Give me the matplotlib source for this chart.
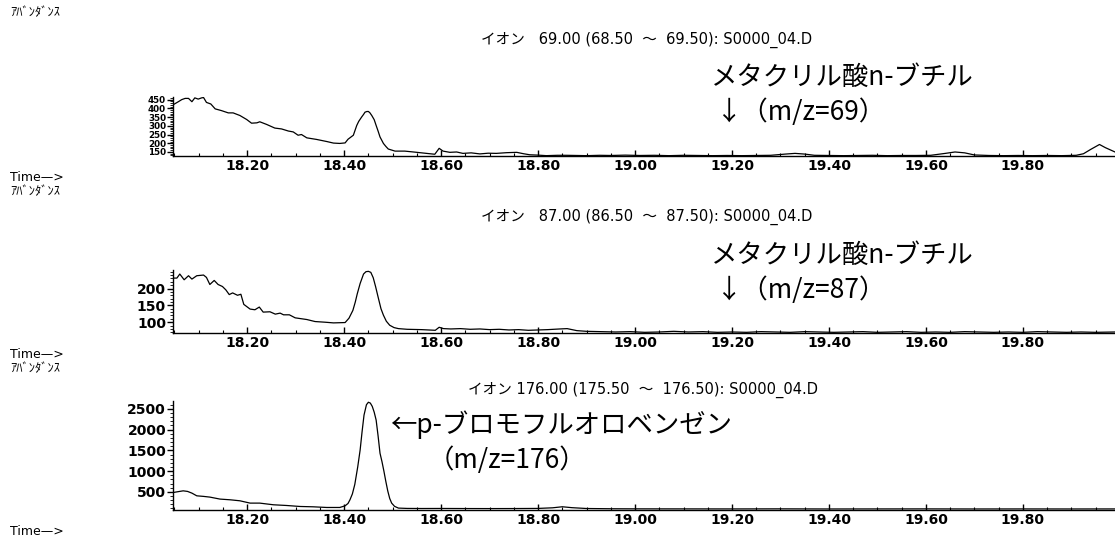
import matplotlib
matplotlib.use("Agg")
import matplotlib.pyplot as plt
from matplotlib.ticker import MultipleLocator, FixedLocator

W, H = 1115, 539

# ---- data (time in min, abundance) ----
t69 = [18.047, 18.058, 18.065, 18.072, 18.079, 18.086, 18.092, 18.099, 18.106, 18.110,
       18.116, 18.125, 18.134, 18.147, 18.161, 18.171, 18.185, 18.199, 18.209, 18.220,
       18.226, 18.240, 18.257, 18.271, 18.285, 18.295, 18.305, 18.312, 18.323, 18.343,
       18.364, 18.378, 18.391, 18.402, 18.408, 18.419, 18.426, 18.430, 18.436, 18.440,
       18.443, 18.447, 18.450, 18.453, 18.457, 18.462, 18.466, 18.470, 18.474, 18.478,
       18.481, 18.486, 18.491, 18.505, 18.525, 18.543, 18.570, 18.587,
       18.596, 18.604, 18.618, 18.632, 18.645, 18.662, 18.680, 18.697, 18.714, 18.735,
       18.756, 18.770, 18.783, 18.800, 18.817, 18.840, 18.858, 18.880, 18.900, 18.927,
       18.95, 18.98, 19.01, 19.04, 19.07, 19.10, 19.13, 19.16, 19.19, 19.22,
       19.25, 19.28, 19.31, 19.33, 19.35, 19.37, 19.40, 19.43, 19.46, 19.49,
       19.52, 19.55, 19.58, 19.61, 19.64, 19.66, 19.68, 19.70, 19.73, 19.76,
       19.79, 19.82, 19.85, 19.88, 19.91, 19.925, 19.94, 19.958, 19.97, 19.99]
a69 = [420, 438, 450, 457, 457, 438, 460, 453, 460, 462,
       434, 425, 397, 387, 374, 374, 359, 336, 315, 317,
       323, 308, 287, 282, 270, 265, 246, 250, 231, 222,
       210, 201, 199, 202, 223, 246, 302, 325, 350, 365,
       378, 382, 382, 375, 359, 335, 302, 270, 236, 215,
       199, 182, 167, 155, 155, 150, 142, 137,
       171, 155, 148, 150, 142, 145, 139, 143, 142, 146,
       148, 140, 134, 132, 129, 131, 131, 130, 129, 131,
       130, 132, 130, 131, 129, 131, 130, 129, 130, 129,
       130, 131, 138, 142, 138, 131, 130, 129, 130, 131,
       129, 130, 130, 131, 142, 150, 145, 133, 130, 129,
       130, 129, 130, 129, 131, 140, 165, 193, 175, 150]

t87 = [18.047, 18.055, 18.061, 18.070, 18.079, 18.086, 18.096, 18.103, 18.110, 18.116,
       18.123, 18.132, 18.140, 18.149, 18.156, 18.163, 18.170, 18.180, 18.187, 18.193,
       18.206, 18.216, 18.225, 18.233, 18.247, 18.258, 18.268, 18.275, 18.287, 18.299,
       18.323, 18.340, 18.361, 18.378, 18.402, 18.410, 18.418, 18.423, 18.427, 18.433,
       18.440, 18.445, 18.450, 18.455, 18.460, 18.465, 18.470, 18.476, 18.481, 18.487,
       18.494, 18.503, 18.512, 18.53, 18.56, 18.588, 18.596, 18.605,
       18.62, 18.64, 18.66, 18.68, 18.70, 18.72, 18.74, 18.76, 18.78, 18.80,
       18.82, 18.845, 18.86, 18.88, 18.90, 18.93, 18.96, 18.99, 19.02, 19.05,
       19.08, 19.11, 19.14, 19.17, 19.20, 19.23, 19.26, 19.29, 19.32, 19.35,
       19.38, 19.41, 19.44, 19.47, 19.50, 19.53, 19.56, 19.59, 19.62, 19.65,
       19.68, 19.71, 19.74, 19.77, 19.80, 19.83, 19.86, 19.89, 19.92, 19.95, 19.99]
a87 = [231, 231, 243, 226, 238, 228, 238, 239, 240, 233,
       212, 224, 212, 206, 196, 182, 187, 180, 183, 153,
       139, 137, 145, 130, 131, 124, 127, 122, 122, 113,
       108, 102, 100, 98, 99, 112, 135, 160, 184, 215,
       243, 250, 251, 248, 232, 205, 175, 140, 121, 103,
       91, 84, 81, 79, 78, 76, 85, 81,
       80, 81, 79, 80, 78, 79, 77, 78, 76, 77,
       78, 80, 81, 75, 73, 72, 71, 72, 70, 71,
       73, 71, 72, 70, 71, 70, 72, 71, 70, 72,
       71, 70, 71, 72, 70, 71, 72, 70, 71, 70,
       72, 71, 70, 71, 70, 72, 71, 70, 71, 70, 71]

t176 = [18.047, 18.058, 18.068, 18.077, 18.086, 18.096, 18.110, 18.123, 18.144, 18.165,
        18.185, 18.206, 18.226, 18.254, 18.281, 18.309, 18.336, 18.364, 18.391, 18.402,
        18.408, 18.412, 18.417, 18.422, 18.428, 18.433, 18.437, 18.441, 18.446, 18.450,
        18.454, 18.458, 18.462, 18.466, 18.470, 18.474, 18.478, 18.482, 18.486, 18.490,
        18.494, 18.498, 18.504, 18.512, 18.53, 18.56, 18.60, 18.65, 18.70,
        18.75, 18.80, 18.83, 18.85, 18.87, 18.90, 18.95, 19.00, 19.1, 19.2,
        19.3, 19.4, 19.5, 19.6, 19.7, 19.8, 19.9, 19.99]
a176 = [483, 505, 524, 510, 469, 404, 390, 373, 325, 308,
        284, 228, 228, 188, 171, 147, 139, 123, 123, 163,
        220, 308, 450, 680, 1100, 1510, 1950, 2350, 2600, 2660,
        2640, 2560, 2420, 2230, 1850, 1430, 1230, 1000, 750, 520,
        340, 228, 150, 108, 100, 98, 99, 97, 96,
        97, 100, 115, 140, 118, 98, 92, 90, 89, 88,
        90, 87, 88, 89, 87, 88, 87, 88]

titles = ["イオン   69.00 (68.50  〜  69.50): S0000_04.D",
          "イオン   87.00 (86.50  〜  87.50): S0000_04.D",
          "イオン 176.00 (175.50  〜  176.50): S0000_04.D"]
abund = "ｱﾊﾞﾝﾀﾞﾝｽ"
time_lbl = "Time—>"

xticks = [18.20, 18.40, 18.60, 18.80, 19.00, 19.20, 19.40, 19.60, 19.80]
yticks = [[150, 200, 250, 300, 350, 400, 450], [100, 150, 200],
          [500, 1000, 1500, 2000, 2500]]
yminor = [10, 10, 100]
ylims = [(127, 465), (68, 255), (62, 2690)]
ylabsize = [6.3, 10, 10]

latin = ["DejaVu Sans", "Noto Sans CJK JP"]
jp = ["Noto Sans CJK JP", "DejaVu Sans"]

fig = plt.figure(figsize=(W / 100, H / 100), dpi=100)


def px(x, y):
    return x / W, 1 - y / H


def add_panel(top, bottom):
    l, t = px(173, top)
    _, b = px(173, bottom)
    return fig.add_axes([l, b, 1 - l, t - b])


axs = [add_panel(97, 156), add_panel(270, 333), add_panel(401, 510)]
series = [(t69, a69), (t87, a87), (t176, a176)]

for i, ax in enumerate(axs):
    t, a = series[i]
    ax.plot(t, a, color="black", lw=0.9)
    ax.set_xlim(18.047, 19.99)
    ax.set_ylim(*ylims[i])
    for s in ["top", "right"]:
        ax.spines[s].set_visible(False)
    for s in ["left", "bottom"]:
        ax.spines[s].set_linewidth(1.0)
    ax.xaxis.set_major_locator(FixedLocator(xticks))
    ax.xaxis.set_minor_locator(MultipleLocator(0.05))
    ax.set_xticklabels(["%.2f" % v for v in xticks])
    ax.yaxis.set_major_locator(FixedLocator(yticks[i]))
    ax.yaxis.set_minor_locator(MultipleLocator(yminor[i]))
    ax.tick_params(axis="x", which="major", direction="in", length=4, width=1,
                   pad=2, labelsize=10)
    ax.tick_params(axis="x", which="minor", direction="in", length=2, width=0.8)
    ax.tick_params(axis="y", which="major", direction="out", length=4, width=1,
                   pad=1, labelsize=ylabsize[i])
    ax.tick_params(axis="y", which="minor", direction="out", length=2, width=0.6)
    for lab in ax.get_xticklabels() + ax.get_yticklabels():
        lab.set_fontfamily("DejaVu Sans")
        lab.set_fontweight("bold")

# left-hand labels
fig.text(*px(10, 13), abund, fontsize=9, family=jp, va="center", ha="left")
for ytime, yab in [(184, 185), (361, 362), (538, None)]:
    fig.text(*px(10, ytime), time_lbl, fontsize=9, family=latin,
             va="bottom", ha="left")
    if yab is not None:
        fig.text(*px(10, yab), abund, fontsize=9, family=jp,
                 va="top", ha="left")

# ion titles
for (x, y), s in zip([(647, 40), (647, 217), (643, 390)], titles):
    fig.text(*px(x, y), s, fontsize=10.5, family=latin, ha="center", va="center")

# compound annotations
big = dict(fontsize=19, family=jp, ha="left", va="center")
fig.text(*px(711, 77), "メタクリル酸n-ブチル", **big)
fig.text(*px(716, 112), "↓（m/z=69）", **big)
fig.text(*px(711, 255), "メタクリル酸n-ブチル", **big)
fig.text(*px(716, 290), "↓（m/z=87）", **big)
fig.text(*px(390, 425), "←p-ブロモフルオロベンゼン", **big)
fig.text(*px(428, 460), "（m/z=176）", **big)

fig.savefig("out.png", dpi=100)
